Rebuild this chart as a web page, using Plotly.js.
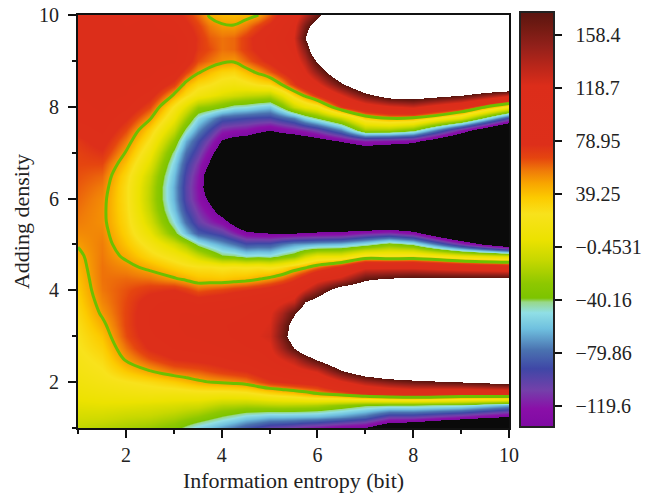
<!DOCTYPE html>
<html><head><meta charset="utf-8">
<script src="https://cdn.plot.ly/plotly-3.0.1.min.js"></script>
<style>html,body{margin:0;padding:0;background:#fff}#c{width:653px;height:496px}</style>
</head><body><div id="c"></div>
<script>
const xValues=[1,1.5,2,2.5,3,3.25,3.5,3.75,4,4.25,4.5,4.75,5,5.25,5.5,5.75,6,6.5,7,7.5,8,9,10];
const yValues=[1,1.25,1.5,1.75,2,2.25,2.5,2.75,3,3.25,3.5,3.75,4,4.25,4.5,4.75,5,5.25,5.5,5.75,6,6.25,6.5,6.75,7,7.25,7.5,7.75,8,8.25,8.5,8.75,9,9.25,9.5,9.75,10];
const zAtX1=[-12,-5,2,8,13,17,20,23,25,27,30,33,36,39,42,45,49,53,56,58,60,62,64,66,68,72,80,90,95,98,98,98,98,98,98,98,98];
const zAtX1_5=[-16,-6,3,11,18,23,28,33,38,44,50,54,57,58,58,57,56,54,52,52,53,56,60,66,74,82,90,96,100,102,102,102,102,102,102,102,102];
const zAtX2=[-20,-10,2,13,23,37,50,58,65,67,67,66,64,60,53,45,38,33,30,28,27,27,30,38,47,56,66,78,90,98,100,100,100,100,100,98,96];
const zAtX2_5=[-25,-12,0,15,28,48,65,78,85,88,88,84,72,58,44,30,18,5,-5,-12,-15,-14,-10,0,10,22,33,50,66,82,95,100,102,102,102,100,98];
const zAtX3=[-34,-18,-2,14,35,58,76,88,95,97,97,92,76,50,33,17,-5,-35,-50,-60,-65,-66,-62,-55,-45,-28,-10,8,22,46,70,90,100,102,100,92,82];
const zAtX3_25=[-45,-23,-4,15,40,60,78,90,98,100,99,90,70,45,28,8,-22,-62,-80,-92,-99,-100,-97,-90,-80,-66,-45,-22,0,28,44,68,85,90,88,80,72];
const zAtX3_5=[-55,-28,-5,16,45,62,80,92,100,102,97,85,62,40,25,-8,-45,-85,-103,-112,-120,-122,-120,-113,-102,-90,-72,-52,-25,15,30,50,65,72,73,68,60];
const zAtX3_75=[-62,-35,-10,16,48,66,82,95,103,105,102,88,65,39,25,-22,-58,-92,-115,-128,-142,-155,-155,-140,-128,-112,-93,-68,-30,8,25,40,58,65,62,56,46];
const zAtX4=[-70,-42,-15,15,50,70,85,98,106,108,103,90,68,38,22,-38,-68,-100,-125,-150,-175,-190,-190,-175,-155,-138,-115,-85,-38,0,18,32,52,58,58,50,42];
const zAtX4_25=[-78,-48,-16,16,52,73,90,103,111,111,105,94,72,40,24,-40,-78,-115,-145,-172,-195,-205,-205,-190,-167,-147,-120,-88,-48,-5,15,30,50,60,60,49,41];
const zAtX4_5=[-88,-55,-18,18,55,76,94,108,116,114,108,98,75,42,22,-48,-90,-130,-165,-190,-210,-220,-215,-200,-175,-150,-122,-92,-50,-10,20,40,60,70,70,56,42];
const zAtX4_75=[-96,-58,-17,23,63,84,101,112,120,117,113,103,80,46,24,-46,-88,-134,-168,-192,-212,-222,-220,-205,-182,-155,-130,-94,-56,-12,26,50,70,80,82,68,47];
const zAtX5=[-105,-62,-15,28,72,92,110,118,125,122,118,108,85,52,20,-48,-88,-136,-170,-195,-215,-225,-225,-210,-190,-160,-135,-95,-60,-15,30,62,80,90,92,80,62];
const zAtX5_25=[-108,-62,-14,32,76,100,122,145,160,155,140,118,92,60,26,-38,-78,-136,-170,-195,-215,-225,-225,-212,-192,-160,-128,-85,-38,5,50,76,92,102,106,98,84];
const zAtX5_5=[-112,-63,-15,36,80,108,135,176,197,190,172,130,100,72,38,-30,-70,-136,-170,-195,-215,-225,-225,-215,-195,-160,-122,-75,-10,32,72,90,105,115,122,115,105];
const zAtX5_75=[-118,-64,-16,42,82,115,158,205,215,220,205,176,125,88,46,-8,-68,-134,-170,-195,-215,-222,-222,-215,-192,-155,-115,-55,5,52,95,118,135,155,175,160,135];
const zAtX6=[-122,-65,-18,48,85,125,180,215,225,230,225,195,150,110,58,5,-65,-132,-170,-195,-215,-220,-220,-215,-190,-150,-105,-40,15,75,115,150,180,215,225,200,165];
const zAtX6_5=[-132,-72,-28,58,115,172,220,240,240,240,240,240,200,130,80,5,-62,-130,-170,-195,-210,-215,-215,-205,-175,-134,-75,-10,70,120,170,215,240,240,240,240,240];
const zAtX7=[-138,-82,-38,75,140,205,240,240,240,240,240,240,215,170,115,28,-50,-118,-190,-205,-215,-220,-220,-210,-165,-118,-22,35,100,165,220,240,240,240,240,240,240];
const zAtX7_5=[-165,-105,-40,85,155,225,250,250,250,250,250,250,230,180,115,25,-33,-112,-180,-200,-215,-225,-225,-215,-175,-122,-22,48,115,195,250,250,250,250,250,250,250];
const zAtX8=[-175,-105,-40,90,165,225,250,250,250,250,250,250,235,185,115,28,-45,-125,-190,-210,-220,-225,-225,-220,-180,-128,-35,45,125,200,250,250,250,250,250,250,250];
const zAtX9=[-210,-120,-45,80,175,245,250,250,250,250,250,250,250,185,100,8,-110,-195,-225,-235,-240,-240,-240,-240,-230,-185,-118,2,85,178,250,250,250,250,250,250,250];
const zAtX10=[-250,-140,-65,85,190,250,250,250,250,250,250,250,250,185,90,-5,-170,-240,-250,-250,-250,-250,-250,-250,-250,-250,-200,-95,15,130,250,250,250,250,250,250,250];
const zColumns=[zAtX1,zAtX1_5,zAtX2,zAtX2_5,zAtX3,zAtX3_25,zAtX3_5,zAtX3_75,zAtX4,zAtX4_25,zAtX4_5,zAtX4_75,zAtX5,zAtX5_25,zAtX5_5,zAtX5_75,zAtX6,zAtX6_5,zAtX7,zAtX7_5,zAtX8,zAtX9,zAtX10];
const colorbarTicks=[158.4,118.7,78.95,39.25,-0.4531,-40.16,-79.86,-119.6];
const colorbarLabels=['158.4','118.7','78.95','39.25','\u22120.4531','\u221240.16','\u221279.86','\u2212119.6'];
const contourLevel=48;
const stopValues=[-135.6,-122,-108,-92,-78,-62,-50,-42,-39,-28,-10,5,24,36,47,56,66,76,120,135,150,165,175.4];
const stopColors=['#7f0aa3','#8a0fa8','#7440aa','#3f47a6','#4a72b0','#6fc0df','#90dfe6','#98d88a','#7cc400','#8ec800','#c8d800','#ece200','#f8e21c','#fccb00','#f8a500','#f07d08','#e5450f','#dd2f1a','#dc2d1a','#b8261a','#92201a','#701a12','#5a1510'];

const z=yValues.map((_,r)=>zColumns.map(c=>c[r]));
const barMin=stopValues[0],barMax=stopValues[stopValues.length-1];
const fieldMin=-260,fieldMax=260;
const barScale=stopValues.map((v,i)=>[(v-barMin)/(barMax-barMin),stopColors[i]]);
const t=v=>(v-fieldMin)/(fieldMax-fieldMin);
const fieldScale=[[0,'#0a0a0a'],[t(barMin),'#0a0a0a']]
  .concat(stopValues.map((v,i)=>[t(v),stopColors[i]]))
  .concat([[t(barMax),'#ffffff'],[1,'#ffffff']]);
const serif='"Liberation Serif", serif';
const ink='#222';
const axisBase={range:[1,10],showgrid:false,zeroline:false,showline:true,mirror:true,linecolor:'#111',linewidth:2,
  ticks:'outside',ticklen:8,tickwidth:2,tickcolor:'#111',automargin:false,
  minor:{dtick:1,tick0:1,ticks:'outside',ticklen:4,tickwidth:2,tickcolor:'#111',showgrid:false},
  tickfont:{family:serif,size:20,color:ink}};
const traces=[
 {type:'heatmap',x:xValues,y:yValues,z:z,zmin:barMin,zmax:barMax,colorscale:barScale,showscale:true,hoverinfo:'skip',
  colorbar:{thicknessmode:'pixels',thickness:34,lenmode:'pixels',len:415,xref:'paper',yref:'paper',x:1.0266,xanchor:'left',y:0.5048,yanchor:'middle',xpad:0,ypad:0,
   outlinewidth:2,outlinecolor:'#222',ticks:'outside',ticklen:7,tickwidth:2,tickcolor:'#111',tickmode:'array',tickvals:colorbarTicks,ticktext:colorbarLabels.map(s=>'\u00a0\u00a0'+s),
   tickfont:{family:serif,size:20,color:ink}}},
 {type:'heatmap',x:xValues,y:yValues,z:z,zmin:fieldMin,zmax:fieldMax,zsmooth:'best',colorscale:fieldScale,showscale:false,hoverinfo:'skip'},
 {type:'contour',x:xValues,y:yValues,z:z,autocontour:false,contours:{coloring:'none',start:contourLevel,end:contourLevel,size:1},
  line:{color:'#6cc000',width:3,smoothing:1},showscale:false,hoverinfo:'skip'}
];
const layout={width:653,height:496,margin:{l:77.5,r:143.5,t:14.5,b:67.5,autoexpand:false},paper_bgcolor:'#fff',plot_bgcolor:'#fff',showlegend:false,
  xaxis:Object.assign({},axisBase,{tickvals:[2,4,6,8,10],ticktext:['2','4','6','8','10'],title:{text:'Information entropy (bit)',font:{family:serif,size:22,color:ink},standoff:8}}),
  yaxis:Object.assign({},axisBase,{tickvals:[2,4,6,8,10],ticktext:['2','4','6','8','10'].map(s=>s+'\u00a0'),title:{text:'Adding density',font:{family:serif,size:22,color:ink},standoff:3}})};
Plotly.newPlot('c',traces,layout,{displayModeBar:false,staticPlot:true});
</script></body></html>
